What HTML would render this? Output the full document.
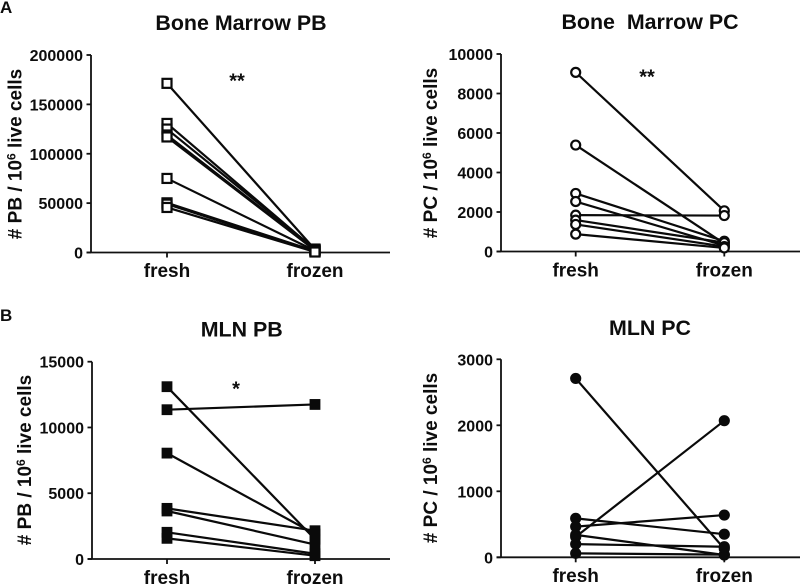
<!DOCTYPE html>
<html lang="en">
<head>
<meta charset="utf-8">
<title>Fresh vs frozen cell counts</title>
<style>
html,body{margin:0;padding:0;background:#fff;}
svg{display:block;}
text{font-family:"Liberation Sans",Arial,sans-serif;font-weight:bold;fill:#0d0d0d;white-space:pre;}
</style>
</head>
<body>
<svg id="figure" xmlns="http://www.w3.org/2000/svg" width="800" height="585" viewBox="0 0 800 585">
<text x="0" y="13" font-size="17">A</text>
<text x="0" y="321" font-size="17">B</text>
</svg>
<script>
var categories = ['fresh', 'frozen'];

var bmPbTicks = [0, 50000, 100000, 150000, 200000];
var bmPbFresh = [171300, 130700, 125000, 119000, 117000, 75000, 50300, 49000, 45600];
var bmPbFrozen = [3000, 2800, 3500, 2500, 2200, 1800, 1500, 1000, 500];

var bmPcTicks = [0, 2000, 4000, 6000, 8000, 10000];
var bmPcFresh = [9070, 5390, 2940, 2530, 1840, 1590, 1370, 880];
var bmPcFrozen = [2060, 400, 520, 300, 1820, 450, 250, 180];

var mlnPbTicks = [0, 5000, 10000, 15000];
var mlnPbFresh = [13100, 11350, 8050, 3850, 3650, 2030, 1570];
var mlnPbFrozen = [1500, 11750, 1900, 2150, 1100, 400, 250];

var mlnPcTicks = [0, 1000, 2000, 3000];
var mlnPcFresh = [2710, 590, 465, 340, 310, 200, 60];
var mlnPcFrozen = [130, 350, 640, 35, 2070, 160, 40];

var svg = document.getElementById('figure');
var NS = 'http://www.w3.org/2000/svg';

function make(tag, attrs, parent) {
  var el = document.createElementNS(NS, tag);
  for (var k in attrs) el.setAttribute(k, attrs[k]);
  parent.appendChild(el);
  return el;
}

function drawPanel(p) {
  var g = make('g', {}, svg);
  
  

  var maxTick = p.ticks[p.ticks.length - 1];
  function yScale(v) { return p.bottom - (v / maxTick) * (p.bottom - p.top); }
  function xScale(i) { return p.xFresh + i * (p.xFrozen - p.xFresh); }

  var title = make('text', {x: p.titleX, y: p.titleY, 'font-size': 21.4, 'text-anchor': 'middle'}, g);
  title.textContent = p.title;
  
  

  var yLabel = make('text', {
    transform: 'translate(' + p.yLabelX + ',' + p.yLabelY + ') rotate(-90)',
    'font-size': 19, 'text-anchor': 'middle'
  }, g);
  
  
  var t1 = make('tspan', {}, yLabel);
  t1.textContent = '# ' + p.unit + ' / 10';
  var t2 = make('tspan', {dy: -6, 'font-size': 12}, yLabel);
  t2.textContent = '6';
  var t3 = make('tspan', {dy: 6}, yLabel);
  t3.textContent = ' live cells';

  var yAxis = make('line', {x1: p.axisX, x2: p.axisX, y1: p.top, y2: p.bottom, stroke: '#111', 'stroke-width': 1.8}, g);
  
  

  var xAxis = make('line', {x1: p.axisX - 4.5, x2: p.axisEnd, y1: p.bottom, y2: p.bottom, stroke: '#111', 'stroke-width': 1.8}, g);
  
  

  p.ticks.forEach(function (v) {
    var y = yScale(v);
    var tick = make('line', {x1: p.axisX - 4.5, x2: p.axisX, y1: y, y2: y, stroke: '#111', 'stroke-width': 1.8}, g);
    
    
    var lab = make('text', {x: p.axisX - 8, y: y + 6, 'font-size': 16, 'text-anchor': 'end'}, g);
    lab.textContent = String(v);
    
    
  });

  categories.forEach(function (c, i) {
    var x = xScale(i);
    var tick = make('line', {x1: x, x2: x, y1: p.bottom, y2: p.bottom + 5, stroke: '#111', 'stroke-width': 1.8}, g);
    
    
    var lab = make('text', {x: x, y: p.catY, 'font-size': 19, 'text-anchor': 'middle'}, g);
    lab.textContent = c;
    
    
  });

  if (p.stars) {
    var st = make('text', {x: p.starX, y: p.starY, 'font-size': 20, 'text-anchor': 'middle'}, g);
    st.textContent = p.stars;
    
    
  }

  p.fresh.forEach(function (v, i) {
    var line = make('line', {
      x1: xScale(0), y1: yScale(v), x2: xScale(1), y2: yScale(p.frozen[i]),
      stroke: '#0a0a0a', 'stroke-width': 2.2
    }, g);
    
    
  });

  function marker(cx, cy) {
    var fill = p.filled ? '#0a0a0a' : '#fff';
    var m;
    if (p.shape === 'square') {
      var half = p.filled ? 4.3 : 4.5;
      m = make('rect', {x: cx - half, y: cy - half, width: half * 2, height: half * 2, fill: fill, stroke: '#0a0a0a', 'stroke-width': 2.2}, g);
    } else {
      m = make('circle', {cx: cx, cy: cy, r: 4.5, fill: fill, stroke: '#0a0a0a', 'stroke-width': 2.2}, g);
    }
    return m;
  }

  p.fresh.forEach(function (v) {
    var m = marker(xScale(0), yScale(v));
    
    
  });
  p.frozen.forEach(function (v) {
    var m = marker(xScale(1), yScale(v));
    
    
  });
}

drawPanel({
  id: 'bone-marrow-pb', title: 'Bone Marrow PB', unit: 'PB',
  ticks: bmPbTicks, fresh: bmPbFresh, frozen: bmPbFrozen,
  shape: 'square', filled: false,
  axisX: 91, axisEnd: 390, top: 55, bottom: 252.5, xFresh: 167, xFrozen: 315,
  titleX: 241, titleY: 30, yLabelX: 21.5, yLabelY: 154, catY: 277,
  stars: '**', starX: 237, starY: 87.5
});
drawPanel({
  id: 'bone-marrow-pc', title: 'Bone  Marrow PC', unit: 'PC',
  ticks: bmPcTicks, fresh: bmPcFresh, frozen: bmPcFrozen,
  shape: 'circle', filled: false,
  axisX: 501, axisEnd: 800, top: 54, bottom: 251.5, xFresh: 575.7, xFrozen: 724.3,
  titleX: 650, titleY: 29, yLabelX: 437, yLabelY: 153, catY: 276.7,
  stars: '**', starX: 647, starY: 83.5
});
drawPanel({
  id: 'mln-pb', title: 'MLN PB', unit: 'PB',
  ticks: mlnPbTicks, fresh: mlnPbFresh, frozen: mlnPbFrozen,
  shape: 'square', filled: true,
  axisX: 92, axisEnd: 390, top: 361.7, bottom: 559, xFresh: 167, xFrozen: 315,
  titleX: 241.7, titleY: 336.5, yLabelX: 31, yLabelY: 460, catY: 584,
  stars: '*', starX: 236, starY: 395.5
});
drawPanel({
  id: 'mln-pc', title: 'MLN PC', unit: 'PC',
  ticks: mlnPcTicks, fresh: mlnPcFresh, frozen: mlnPcFrozen,
  shape: 'circle', filled: true,
  axisX: 501, axisEnd: 800, top: 359.3, bottom: 557.3, xFresh: 575.7, xFrozen: 724.3,
  titleX: 650, titleY: 335, yLabelX: 437, yLabelY: 458, catY: 582,
  stars: '', starX: 0, starY: 0
});
</script>
</body>
</html>
